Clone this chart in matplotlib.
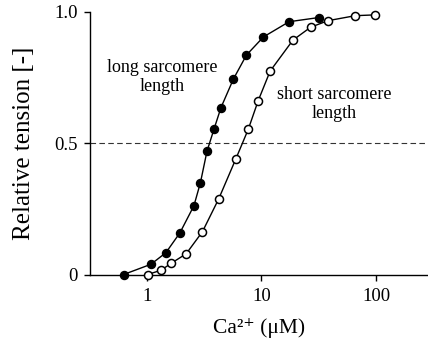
import matplotlib
matplotlib.use("Agg")
import matplotlib.pyplot as plt
from matplotlib.ticker import NullLocator

plt.rcParams["font.family"] = ["Liberation Serif", "DejaVu Serif"]

# Ca2+ concentration (uM) and relative tension for the two sarcomere lengths
ca_long = [0.63, 1.09, 1.47, 1.95, 2.58, 2.94, 3.35, 3.86, 4.44, 5.70, 7.40, 10.4, 17.4, 31.7]
tension_long = [0.0, 0.039, 0.083, 0.159, 0.262, 0.350, 0.469, 0.554, 0.636, 0.745,
                0.836, 0.905, 0.963, 0.979]

ca_short = [1.02, 1.33, 1.64, 2.21, 3.06, 4.24, 5.96, 7.67, 9.36, 11.9, 18.8, 26.8,
            38.0, 65.6, 97.4]
tension_short = [0.0, 0.016, 0.043, 0.079, 0.163, 0.288, 0.439, 0.553, 0.662, 0.775,
                 0.893, 0.942, 0.967, 0.986, 0.989]

x_ticks = [1, 10, 100]
x_tick_labels = ["1", "10", "100"]
y_ticks = [0, 0.5, 1.0]
y_tick_labels = ["0", "0.5", "1.0"]
half_max = 0.5

fig = plt.figure(figsize=(4.28, 3.44), dpi=100)
ax = fig.add_axes([90 / 428, 1 - 274.5 / 344, 338 / 428, 262.5 / 344])

ax.axhline(half_max, color="#333333", lw=0.8, ls=(0, (5, 3)), zorder=1)

ax.plot(ca_long, tension_long, color="black", lw=1.0, marker="o", ms=5.8,
        mfc="black", mec="black", mew=1.0, clip_on=False, zorder=3)
ax.plot(ca_short, tension_short, color="black", lw=1.0, marker="o", ms=5.8,
        mfc="white", mec="black", mew=1.1, clip_on=False, zorder=4)

ax.set_xscale("log")
ax.set_xlim(0.321, 282)
ax.set_ylim(0, 1.0)
ax.set_xticks(x_ticks)
ax.set_xticklabels(x_tick_labels)
ax.set_yticks(y_ticks)
ax.set_yticklabels(y_tick_labels)
ax.xaxis.set_minor_locator(NullLocator())

for side in ("top", "right"):
    ax.spines[side].set_visible(False)
for side in ("left", "bottom"):
    ax.spines[side].set_linewidth(1.0)

ax.tick_params(axis="both", direction="out", length=4, width=1.0, labelsize=13.5)
ax.tick_params(axis="y", pad=5)
ax.tick_params(axis="x", pad=6)

ax.set_ylabel("Relative tension [-]", fontsize=18, labelpad=14)
ax.set_xlabel("Ca²⁺ (μM)", fontsize=15.5, labelpad=9)

ax.text(1.36, 0.754, "long sarcomere\nlength", ha="center", va="center",
        fontsize=13, linespacing=1.15)
ax.text(42.8, 0.651, "short sarcomere\nlength", ha="center", va="center",
        fontsize=13, linespacing=1.15)

fig.savefig("out.png", dpi=100)
